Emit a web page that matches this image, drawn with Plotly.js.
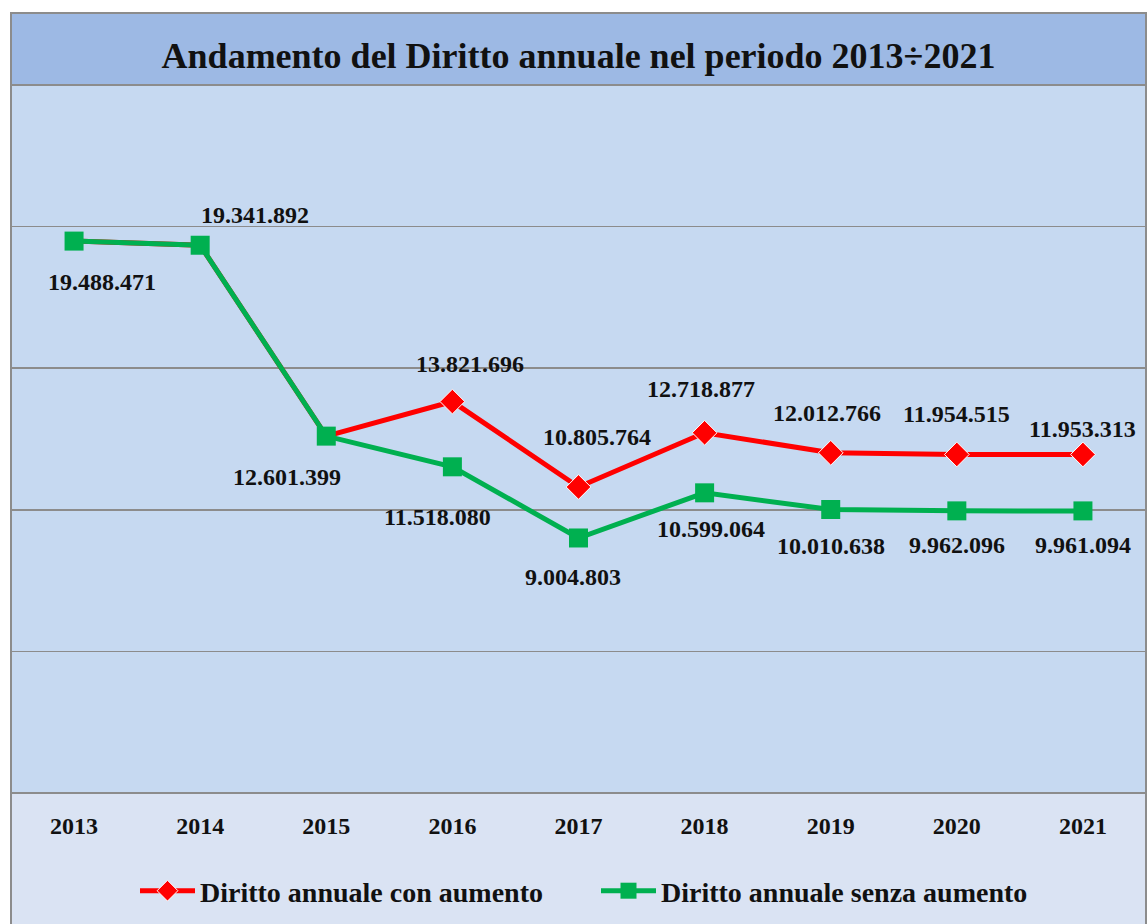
<!DOCTYPE html>
<html>
<head>
<meta charset="utf-8">
<script src="https://cdn.plot.ly/plotly-3.0.1.min.js"></script>
<style>html,body{margin:0;padding:0;background:#fff;}#chart{width:1147px;height:924px;}</style>
</head>
<body>
<div id="chart"></div>
<script>
// ---- data ----
const years = ['2013','2014','2015','2016','2017','2018','2019','2020','2021'];
const conAumento = [19488471, 19341892, 12601399, 13821696, 10805764, 12718877, 12012766, 11954515, 11953313];
const senzaAumento = [19488471, 19341892, 12601399, 11518080, 9004803, 10599064, 10010638, 9962096, 9961094];
const nameCon = 'Diritto annuale con aumento';
const nameSenza = 'Diritto annuale senza aumento';
const titleText = 'Andamento del Diritto annuale nel periodo 2013÷2021';

// ---- label styling (offsets in px; null = no label) ----
const conShift = [null, null, null, [18, 38], [18, 50], [-4, 44], [-4, 40], [0, 40], [0, 25]];
const senzaShift = [[28, -41], [55, 30], [-39, -41], [-15, -50], [-6, -39], [6, -36], [0, -36], [0, -34], [0, -34]];
// red markers kept small where the green squares cover them
const conMarkerSize = [10, 10, 10, 19, 19, 19, 19, 19, 19];

function fmt(n) { return String(n).replace(/\B(?=(\d{3})+(?!\d))/g, '.'); }

const FONT = 'Liberation Serif, Times New Roman, serif';
const annotations = [];
function addLabels(vals, shifts) {
  vals.forEach((v, i) => {
    const s = shifts[i];
    if (!s) return;
    annotations.push({
      x: i, y: v, xref: 'x', yref: 'y', text: fmt(v), showarrow: false,
      xanchor: 'center', yanchor: 'middle', xshift: s[0], yshift: s[1],
      font: {family: FONT, size: 24, color: '#111', weight: 700}
    });
  });
}
addLabels(conAumento, conShift);
addLabels(senzaAumento, senzaShift);

const H = 708; // plot height px
const traces = [
  {x: years, y: conAumento, name: nameCon, type: 'scatter', mode: 'lines+markers',
   line: {color: '#FF0000', width: 5}, marker: {symbol: 'diamond', size: conMarkerSize, opacity: 1, color: '#FF0000'}},
  {x: years, y: senzaAumento, name: nameSenza, type: 'scatter', mode: 'lines+markers',
   line: {color: '#00B050', width: 5}, marker: {symbol: 'square', size: 19, color: '#00B050'}}
];

const layout = {
  width: 1147, height: 924,
  margin: {l: 11, r: 1, t: 85, b: 131},
  paper_bgcolor: '#FFFFFF',
  plot_bgcolor: '#C6D9F1',
  showlegend: true,
  title: {text: titleText, x: 0.5, xref: 'paper', xanchor: 'center', y: 1 - 55/924, yref: 'container', yanchor: 'middle',
          font: {family: FONT, size: 36, color: '#111', weight: 700}},
  xaxis: {type: 'category', range: [-0.5, 8.5], showgrid: false, zeroline: false, showline: false,
          ticks: 'outside', ticklen: 11, tickcolor: 'rgba(0,0,0,0)',
          tickfont: {family: FONT, size: 24, color: '#111', weight: 700}, fixedrange: true},
  yaxis: {range: [0, 25000000], dtick: 5000000, showticklabels: false, showgrid: true,
          gridcolor: '#8C8C8C', gridwidth: 1.5, zeroline: true, zerolinecolor: '#8C8C8C', zerolinewidth: 1.5,
          showline: false, fixedrange: true},
  legend: {orientation: 'h', x: (145 - 11 - 10) / 1135, xanchor: 'left', y: -(891-793)/H, yanchor: 'middle',
           bgcolor: 'rgba(0,0,0,0)', itemwidth: 55, tracegroupgap: 0, entrywidth: 391, entrywidthmode: 'pixels',
           font: {family: FONT, size: 28, color: '#111', weight: 700}},
  annotations: annotations,
  shapes: [
    {type: 'rect', xref: 'paper', yref: 'paper', x0: 0, x1: 1, y0: 1, y1: 1 + 72/H,
     fillcolor: '#9DB9E4', line: {width: 0}, layer: 'below'},
    {type: 'rect', xref: 'paper', yref: 'paper', x0: 0, x1: 1, y0: -131/H, y1: 0,
     fillcolor: '#DAE3F3', line: {width: 0}, layer: 'below'},
    {type: 'line', xref: 'paper', yref: 'paper', x0: 0, x1: 1, y0: 1, y1: 1,
     line: {color: '#8C8C8C', width: 2}},
    {type: 'rect', xref: 'paper', yref: 'paper', x0: 0, x1: 1, y0: -140/H, y1: 1 + 72/H,
     line: {color: '#8C8C8C', width: 2}, fillcolor: 'rgba(0,0,0,0)'}
  ]
};

Plotly.newPlot('chart', traces, layout, {displayModeBar: false, staticPlot: true});
</script>
</body>
</html>
